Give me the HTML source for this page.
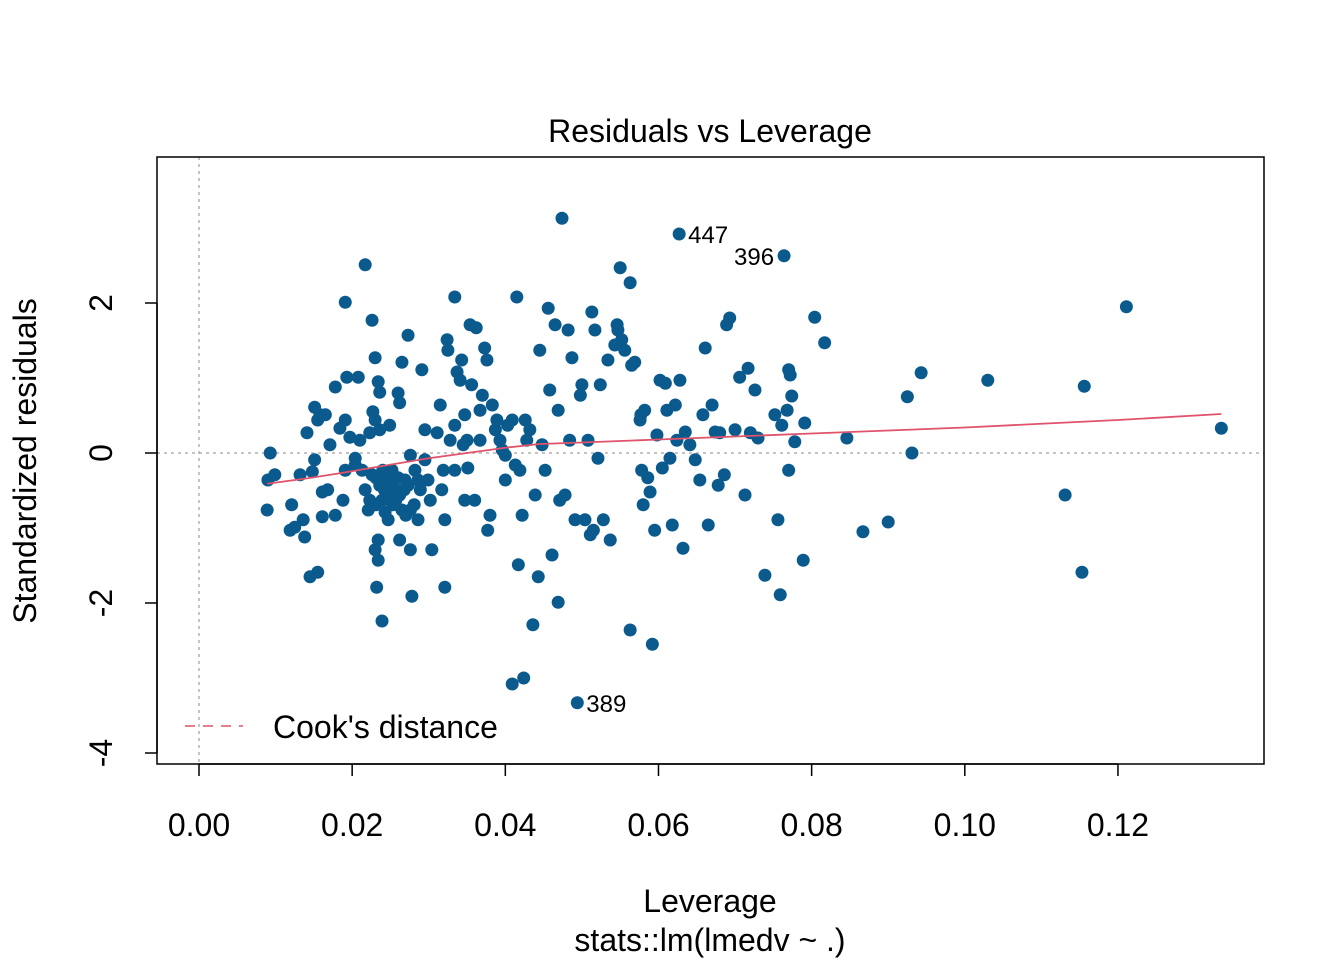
<!DOCTYPE html>
<html><head><meta charset="utf-8"><style>
html,body{margin:0;padding:0;background:#fff}
svg text{font-family:"Liberation Sans",Arial,sans-serif}
</style></head><body>
<svg id="chart" width="1344" height="960" viewBox="0 0 1344 960" xmlns="http://www.w3.org/2000/svg">
<rect x="0" y="0" width="1344" height="960" fill="#fff"/>
<text x="710" y="142" font-size="32" text-anchor="middle">Residuals vs Leverage</text>
<text x="710" y="912" font-size="32" text-anchor="middle">Leverage</text>
<text x="710" y="951" font-size="32" text-anchor="middle">stats::lm(lmedv ~ .)</text>
<text x="0" y="0" font-size="32" text-anchor="middle" transform="translate(36,461) rotate(-90)">Standardized residuals</text>
<g id="axes"></g>
<g id="marks"></g>
<rect x="157" y="157" width="1107" height="607" fill="none" stroke="#000" stroke-width="1.5"/>
<g>
<line x1="185" y1="726" x2="243" y2="726" stroke="#DF536B" stroke-width="1.5" stroke-dasharray="10,8"/>
<text x="273" y="738" font-size="32">Cook's distance</text>
</g>
</svg>
<script>
const xTicks=[0,0.02,0.04,0.06,0.08,0.10,0.12];
const xTickLabels=["0.00","0.02","0.04","0.06","0.08","0.10","0.12"];
const yTicks=[-4,-2,0,2];
const yTickLabels=["-4","-2","0","2"];
const leverage=[.0089,.0093,.0099,.0090,.0121,.0119,.0125,.0132,.0136,.0138,.0141,.0145,.0155,.0151,.0155,.0158,.0161,.0161,.0165,.0151,.0148,.0168,.0171,.0178,.0178,.0184,.0188,.0191,.0191,.0191,.0193,.0197,.0204,.0204,.0208,.0210,.0213,.0217,.0217,.0223,.0226,.0227,.0230,.0230,.0234,.0236,.0236,.0240,.0234,.0234,.0230,.0232,.0239,.0243,.0247,.0249,.0252,.0253,.0256,.0260,.0262,.0262,.0265,.0269,.0273,.0276,.0276,.0278,.0282,.0286,.0286,.0289,.0291,.0295,.0295,.0299,.0302,.0304,.0311,.0315,.0317,.0319,.0321,.0324,.0325,.0328,.0334,.0334,.0337,.0341,.0343,.0345,.0347,.0350,.0351,.0354,.0356,.0360,.0362,.0367,.0370,.0373,.0376,.0377,.0380,.0383,.0387,.0389,.0393,.0396,.0400,.0400,.0403,.0409,.0413,.0415,.0417,.0419,.0422,.0426,.0428,.0432,.0436,.0439,.0443,.0445,.0448,.0452,.0456,.0458,.0461,.0465,.0469,.0471,.0474,.0478,.0482,.0484,.0487,.0491,.0494,.0498,.0500,.0504,.0508,.0511,.0513,.0515,.0517,.0521,.0524,.0528,.0534,.0537,.0543,.0546,.0547,.0550,.0552,.0556,.0563,.0565,.0569,.0576,.0577,.0578,.0580,.0582,.0586,.0589,.0592,.0595,.0598,.0602,.0605,.0609,.0611,.0615,.0618,.0622,.0624,.0627,.0628,.0632,.0635,.0641,.0648,.0654,.0658,.0661,.0665,.0670,.0674,.0678,.0680,.0686,.0689,.0693,.0700,.0706,.0713,.0717,.0720,.0726,.0730,.0739,.0752,.0756,.0759,.0761,.0764,.0768,.0770,.0772,.0774,.0770,.0778,.0789,.0791,.0804,.0817,.0846,.0867,.0900,.0925,.0931,.0943,.1030,.1131,.1153,.1156,.1211,.1335,.0409,.0424,.0563,.0469,.0321,.0226,.0231,.0236,.0242,.0247,.0252,.0257,.0262,.0268,.0273,.0244,.0255,.0265,.0270,.0276,.0281,.0223,.0221,.0231,.0239,.0260,.0347,.0334,.0367];
const stdResid=[-.76,0,-.29,-.36,-.69,-1.03,-.99,-.29,-.89,-1.12,.27,-1.65,-1.59,.61,.44,.51,-.85,-.52,.51,-.09,-.25,-.49,.11,.88,-.83,.33,-.63,2.01,.44,-.23,1.01,.21,-.07,-.16,1.01,.17,-.23,2.51,-.49,.27,1.77,.55,.44,1.27,.95,.81,.31,-.23,-1.16,-1.43,-1.29,-1.79,-2.24,-.79,-.89,.37,-.23,-.69,-.36,.80,.67,-1.16,1.21,-.36,1.57,-.03,-1.29,-1.91,-.23,-.36,-.89,-.49,1.11,.31,-.09,-.36,-.63,-1.29,.27,.64,-.49,-.23,-.89,1.51,1.37,.17,2.08,-.23,1.08,.97,1.24,.11,-.63,.17,-.20,1.71,.91,-.63,1.67,.17,.77,1.40,1.24,-1.03,-.83,.64,.31,.44,.17,.04,-.03,-.36,.37,.44,-.16,2.08,-1.49,-.23,-.83,.44,.17,.31,-2.29,-.56,-1.65,1.37,.11,-.23,1.93,.84,-1.36,1.71,.57,-.63,3.13,-.56,1.64,.17,1.27,-.89,-3.33,.77,.91,-.89,.17,-1.09,1.88,-1.03,1.64,-.07,.91,-.89,1.24,-1.16,1.44,1.71,1.64,2.47,1.51,1.37,2.27,1.17,1.21,.44,.51,-.23,-.69,.57,-.33,-.52,-2.55,-1.03,.24,.97,-.20,.93,.57,-.07,-.96,.64,.17,2.92,.97,-1.27,.28,.11,-.09,-.36,.51,1.40,-.96,.64,.28,-.43,.27,-.29,1.71,1.80,.31,1.01,-.56,1.13,.27,.84,.20,-1.63,.51,-.89,-1.89,.37,2.63,.57,1.11,1.04,.76,-.23,.15,-1.43,.40,1.81,1.47,.20,-1.05,-.92,.75,0,1.07,.97,-.56,-1.59,.89,1.95,.33,-3.08,-3.00,-2.36,-1.99,-1.79,-.29,-.33,-.43,-.49,-.56,-.63,-.63,-.56,-.49,-.43,-.36,-.47,-.76,-.83,-.76,-.69,-.63,-.76,-.69,-.63,-.33,.51,.37,.57];
const labelIds=["447","396","389"];
const labelLev=[.0627,.0764,.0494];
const labelRes=[2.92,2.63,-3.33];
const smoothLev=[.0089,.0140,.0184,.0230,.0300,.0400,.0445,.0500,.0600,.0700,.0800,.0900,.1000,.1100,.1200,.1335];
const smoothRes=[-.41,-.34,-.27,-.19,-.07,.07,.12,.14,.18,.22,.26,.30,.34,.39,.44,.52];

const NS="http://www.w3.org/2000/svg";
const xs=v=>199+v*7658;
const ys=v=>453-v*75;
const axes=document.getElementById('axes');
const marks=document.getElementById('marks');
function mk(tag,attrs,parent){const e=document.createElementNS(NS,tag);for(const k in attrs)e.setAttribute(k,attrs[k]);parent.appendChild(e);return e;}

let vl=mk('line',{x1:xs(0),x2:xs(0),y1:157,y2:764,stroke:'#b0b0b0','stroke-width':1.5,'stroke-dasharray':'3,4'},axes);


let hl=mk('line',{x1:157,x2:1264,y1:ys(0),y2:ys(0),stroke:'#b0b0b0','stroke-width':1.5,'stroke-dasharray':'3,4'},axes);



let xa=mk('line',{x1:xs(xTicks[0]),x2:xs(xTicks[xTicks.length-1]),y1:764,y2:764,stroke:'#000','stroke-width':1.5},axes);


xTicks.forEach((t,i)=>{
  const l=mk('line',{x1:xs(t),x2:xs(t),y1:764,y2:776,stroke:'#000','stroke-width':1.5},axes);
  
  
  const tx=mk('text',{x:xs(t),y:836,'font-size':32,'text-anchor':'middle'},axes);
  tx.textContent=xTickLabels[i];
  
  
});
let ya=mk('line',{x1:157,x2:157,y1:ys(yTicks[0]),y2:ys(yTicks[yTicks.length-1]),stroke:'#000','stroke-width':1.5},axes);


yTicks.forEach((t,i)=>{
  const l=mk('line',{x1:145,x2:157,y1:ys(t),y2:ys(t),stroke:'#000','stroke-width':1.5},axes);
  
  
  const tx=mk('text',{x:0,y:0,'font-size':32,'text-anchor':'middle',transform:`translate(112,${ys(t)}) rotate(-90)`},axes);
  tx.textContent=yTickLabels[i];
  
  
});

leverage.forEach((v,i)=>{
  const c=mk('circle',{cx:xs(v),cy:ys(stdResid[i]),r:6.5,fill:'#0b5a8e'},marks);
  
  
});
const pl=mk('polyline',{points:smoothLev.map((v,i)=>xs(v)+','+ys(smoothRes[i])).join(' '),fill:'none',stroke:'#DF536B','stroke-width':1.8},marks);


labelIds.forEach((id,i)=>{
  const right=id==="396";
  const tx=mk('text',{x:xs(labelLev[i])+(right?-10:9),y:ys(labelRes[i])+9,'font-size':24,'text-anchor':right?'end':'start'},marks);
  tx.textContent=id;
  
  
});
</script>
</body></html>
